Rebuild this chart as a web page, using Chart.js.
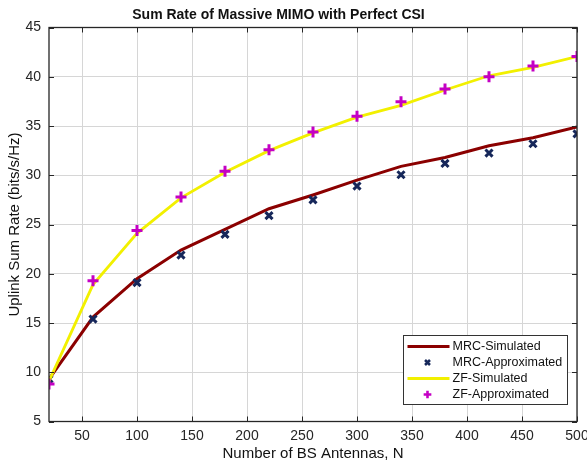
<!DOCTYPE html>
<html>
<head>
<meta charset="utf-8">
<script src="https://cdn.jsdelivr.net/npm/chart.js@4.4.1/dist/chart.umd.min.js"></script>
<style>
html,body{margin:0;padding:0;background:#fff;}
#wrap{width:587px;height:468px;position:relative;}
</style>
</head>
<body>
<div id="wrap"><canvas id="c" width="587" height="468"></canvas></div>
<script>
const TITLE = 'Sum Rate of Massive MIMO with Perfect CSI';
const X_LABEL = 'Number of BS Antennas, N';
const Y_LABEL = 'Uplink Sum Rate (bits/s/Hz)';
const N_ANTENNAS = [20, 60, 100, 140, 180, 220, 260, 300, 340, 380, 420, 460, 500];
const MRC_SIM    = [9.3, 15.6, 19.5, 22.4, 24.5, 26.6, 28.0, 29.5, 30.9, 31.8, 33.0, 33.8, 34.9];
const MRC_APPROX = [9.3, 15.4, 19.1, 21.9, 24.0, 25.9, 27.5, 28.9, 30.05, 31.2, 32.25, 33.2, 34.2];
const ZF_SIM     = [9.1, 18.9, 24.1, 27.7, 30.3, 32.5, 34.3, 35.9, 37.1, 38.65, 40.1, 40.95, 42.05];
const ZF_APPROX  = [8.8, 19.3, 24.4, 27.8, 30.4, 32.6, 34.4, 36.0, 37.45, 38.75, 40.0, 41.1, 42.05];
const X_TICKS = [50, 100, 150, 200, 250, 300, 350, 400, 450, 500];
const Y_TICKS = [5, 10, 15, 20, 25, 30, 35, 40, 45];
const SERIES_NAMES = ['MRC-Simulated', 'MRC-Approximated', 'ZF-Simulated', 'ZF-Approximated'];

const pts = arr => N_ANTENNAS.map((n, i) => ({x: n, y: arr[i]}));
const FONT = '"Liberation Sans", Arial, Helvetica, sans-serif';

const datasets = [
  {label: SERIES_NAMES[0], data: pts(MRC_SIM), borderColor: '#8b0000', backgroundColor: '#8b0000',
   borderWidth: 3, pointRadius: 0, showLine: true, tension: 0, order: 4},
  {label: SERIES_NAMES[1], data: pts(MRC_APPROX), borderColor: '#16275a', backgroundColor: '#16275a',
   showLine: false, pointStyle: 'crossRot', pointRadius: 5, pointBorderWidth: 3, order: 3},
  {label: SERIES_NAMES[2], data: pts(ZF_SIM), borderColor: '#f2f000', backgroundColor: '#f2f000',
   borderWidth: 2.8, pointRadius: 0, showLine: true, tension: 0, order: 2},
  {label: SERIES_NAMES[3], data: pts(ZF_APPROX), borderColor: '#c400c4', backgroundColor: '#c400c4',
   showLine: false, pointStyle: 'cross', pointRadius: 5.5, pointBorderWidth: 3, order: 1}
];

const decor = {
  id: 'decor',
  afterDatasetsDraw(chart) {
    const ctx = chart.ctx, a = chart.chartArea;
    const xs = chart.scales.x, ys = chart.scales.y;
    ctx.save();
    ctx.strokeStyle = '#262626';
    ctx.lineWidth = 1.3;
    ctx.strokeRect(a.left, a.top, a.right - a.left, a.bottom - a.top);
    ctx.lineWidth = 1;
    ctx.beginPath();
    X_TICKS.forEach(v => {
      const px = Math.round(xs.getPixelForValue(v)) + 0.5;
      ctx.moveTo(px, a.bottom); ctx.lineTo(px, a.bottom - 5);
      ctx.moveTo(px, a.top); ctx.lineTo(px, a.top + 5);
    });
    Y_TICKS.forEach(v => {
      const py = Math.round(ys.getPixelForValue(v)) + 0.5;
      ctx.moveTo(a.left, py); ctx.lineTo(a.left + 5, py);
      ctx.moveTo(a.right, py); ctx.lineTo(a.right - 5, py);
    });
    ctx.stroke();
    ctx.restore();
  },
  afterDraw(chart) {
    const ctx = chart.ctx, a = chart.chartArea;
    ctx.save();
    ctx.fillStyle = '#111';
    ctx.font = 'bold 14px ' + FONT;
    ctx.textAlign = 'center';
    ctx.textBaseline = 'middle';
    ctx.fillText(TITLE, (chart.width - 30) / 2, 15);
    const bw = 164, bh = 69;
    const bx = Math.round(a.right - 10.5 - bw) + 0.5;
    const by = Math.round(a.bottom - 18 - bh) + 0.5;
    ctx.fillStyle = '#fff';
    ctx.fillRect(bx, by, bw, bh);
    ctx.strokeStyle = '#333';
    ctx.lineWidth = 1;
    ctx.strokeRect(bx, by, bw, bh);
    ctx.font = '12.5px ' + FONT;
    ctx.textAlign = 'left';
    ctx.textBaseline = 'middle';
    chart.data.datasets.forEach((ds, i) => {
      const cy = by + 11 + i * 16;
      if (ds.showLine) {
        ctx.strokeStyle = ds.borderColor;
        ctx.lineWidth = 3;
        ctx.beginPath();
        ctx.moveTo(bx + 4, cy); ctx.lineTo(bx + 46, cy);
        ctx.stroke();
      } else {
        ctx.strokeStyle = ds.borderColor;
        ctx.fillStyle = ds.backgroundColor;
        ctx.lineWidth = ds.pointBorderWidth * 0.85;
        Chart.helpers.drawPoint(ctx, {pointStyle: ds.pointStyle, radius: ds.pointRadius * 0.7, borderWidth: ds.pointBorderWidth * 0.85, rotation: 0}, bx + 24, cy);
      }
      ctx.fillStyle = '#111';
      ctx.fillText(ds.label, bx + 49, cy + 0.5);
    });
    ctx.restore();
  }
};

new Chart(document.getElementById('c'), {
  type: 'scatter',
  data: {datasets},
  options: {
    responsive: false,
    animation: false,
    layout: {padding: {top: 27.5, right: 10, left: 0, bottom: 0}},
    plugins: {legend: {display: false}, tooltip: {enabled: false}, title: {display: false}},
    scales: {
      x: {
        type: 'linear', min: 20, max: 500,
        afterBuildTicks: s => { s.ticks = X_TICKS.map(v => ({value: v})); },
        afterFit: s => { s.height = 46.5; s.paddingLeft = 0; s.paddingRight = 0; },
        grid: {color: '#d6d6d6', drawTicks: false, lineWidth: 1},
        border: {display: false},
        ticks: {font: {family: FONT, size: 14}, color: '#262626', padding: 6, maxRotation: 0, autoSkip: false},
        title: {display: true, text: X_LABEL, font: {family: FONT, size: 15}, color: '#111', padding: {top: 0, bottom: 5}}
      },
      y: {
        type: 'linear', min: 5, max: 45,
        afterBuildTicks: s => { s.ticks = Y_TICKS.map(v => ({value: v})); },
        afterFit: s => { s.width = 49; s.paddingTop = 0; s.paddingBottom = 0; },
        grid: {color: '#d6d6d6', drawTicks: false, lineWidth: 1},
        border: {display: false},
        ticks: {font: {family: FONT, size: 14}, color: '#262626', padding: 8, autoSkip: false},
        title: {display: true, text: Y_LABEL, font: {family: FONT, size: 15}, color: '#111', padding: {top: 6, bottom: 0}}
      }
    }
  },
  plugins: [decor]
});
</script>
</body>
</html>
